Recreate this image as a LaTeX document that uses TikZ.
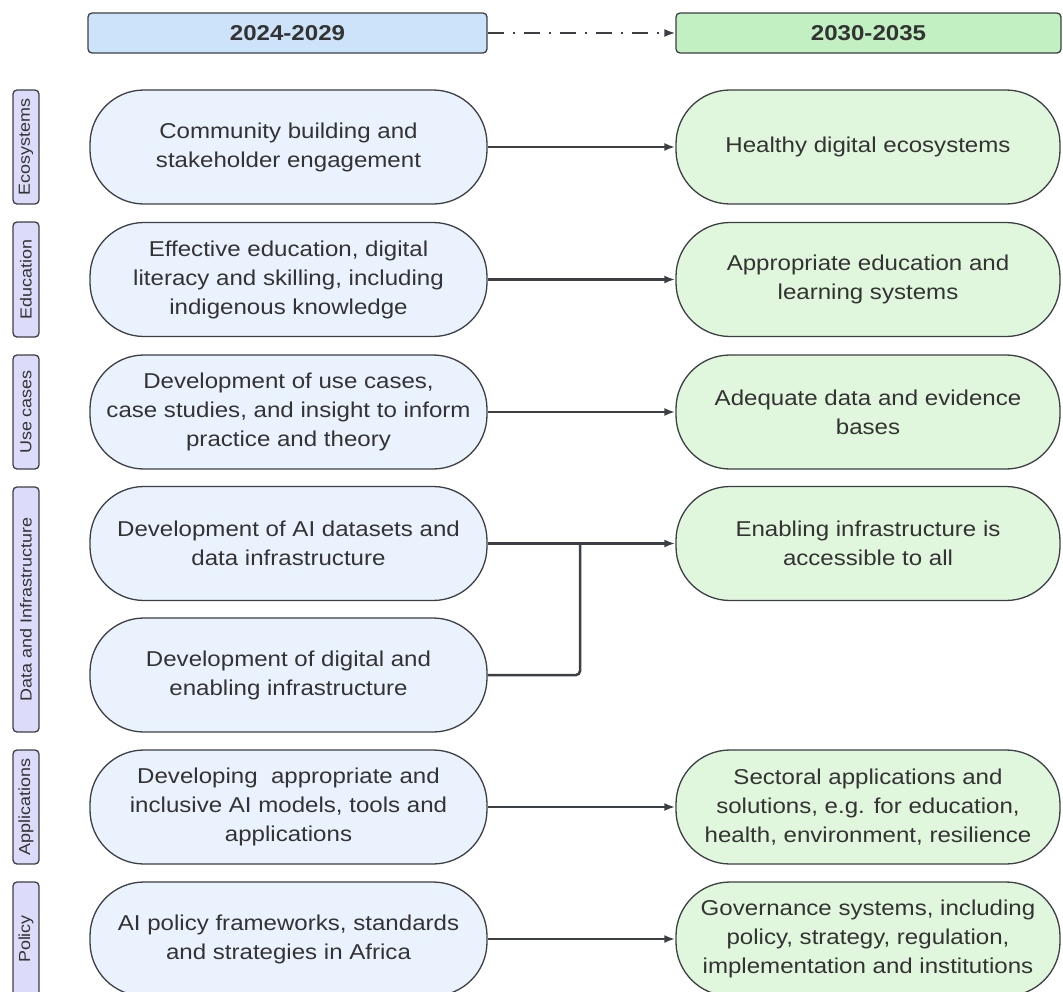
\documentclass[tikz,border=0pt]{standalone}
\usepackage{fontspec}
\setmainfont[FakeStretch=1.12]{Liberation Sans}
\usetikzlibrary{arrows.meta}
\definecolor{linec}{HTML}{3C3F44}
\definecolor{lfill}{HTML}{EAF2FE}
\definecolor{hlfill}{HTML}{CDE3F9}
\definecolor{rfill}{HTML}{E1F7DD}
\definecolor{hrfill}{HTML}{C2F0C2}
\definecolor{sfill}{HTML}{DCDCFA}
\definecolor{textc}{HTML}{333333}
\begin{document}
\begin{tikzpicture}[x=1pt,y=-1pt,
  txt/.style={font=\fontsize{21.5}{29}\selectfont, text=textc},
  lbox/.style={txt, draw=linec, line width=1.3pt, fill=lfill, rounded corners=54pt,
    minimum width=397pt, minimum height=114pt, inner sep=0pt, align=center},
  rbox/.style={lbox, fill=rfill, minimum width=384pt},
  hdr/.style={draw=linec, line width=1.3pt, rounded corners=4pt, minimum height=40pt,
    inner sep=0pt, font=\fontsize{21.5}{26}\bfseries\selectfont, text=textc},
  side/.style={draw=linec, line width=1.3pt, fill=sfill, rounded corners=4pt, rotate=90,
    minimum height=26pt, inner sep=0pt, font=\fontsize{16}{20}\selectfont, text=textc},
  conn/.style={draw=linec, line width=2.5pt, -{Latex[length=11pt,width=8pt]}},
  plain/.style={draw=linec, line width=2.5pt}
]
\useasboundingbox (0,0) rectangle (1063,991);

% headers
\node[hdr, fill=hlfill, minimum width=399pt] (h1) at (287.5,33) {2024-2029};
\node[hdr, fill=hrfill, minimum width=385pt] (h2) at (868.5,33) {2030-2035};
\draw[conn, line width=2pt, dash pattern=on 16pt off 9pt on 2pt off 9pt] (h1.east) -- (h2.west);

% side labels
\node[side, minimum width=114pt] (s1) at (26,147) {Ecosystems};
\node[side, minimum width=115pt] (s2) at (26,279.5) {Education};
\node[side, minimum width=114pt] (s3) at (26,412) {Use cases};
\node[side, minimum width=245pt] (s4) at (26,609.5) {Data and Infrastructure};
\node[side, minimum width=114pt] (s5) at (26,807) {Applications};
\node[side, minimum width=114pt] (s6) at (26,939) {Policy};

% left boxes
\node[lbox] (l1) at (288.5,147) {Community building and\\stakeholder engagement};
\node[lbox] (l2) at (288.5,279.5) {Effective education, digital\\literacy and skilling, including\\indigenous knowledge};
\node[lbox] (l3) at (288.5,412) {Development of use cases,\\case studies, and insight to inform\\practice and theory};
\node[lbox] (l4) at (288.5,543.5) {Development of AI datasets and\\data infrastructure};
\node[lbox] (l4b) at (288.5,675) {Development of digital and\\enabling infrastructure};
\node[lbox] (l5) at (288.5,807) {Developing\ \ appropriate and\\inclusive AI models, tools and\\applications};
\node[lbox] (l6) at (288.5,939) {AI policy frameworks, standards\\and strategies in Africa};

% right boxes
\node[rbox] (r1) at (868,147) {Healthy digital ecosystems};
\node[rbox] (r2) at (868,279.5) {Appropriate education and\\learning systems};
\node[rbox] (r3) at (868,412) {Adequate data and evidence\\bases};
\node[rbox] (r4) at (868,543.5) {Enabling infrastructure is\\accessible to all};
\node[rbox] (r5) at (868,807) {Sectoral applications and\\solutions, e.g. for education,\\health, environment, resilience};
\node[rbox] (r6) at (868,939) {Governance systems, including\\policy, strategy, regulation,\\implementation and institutions};

% connectors
\draw[conn] (l1.east) -- (r1.west);
\draw[conn] (l2.east) -- (r2.west);
\draw[conn] (l3.east) -- (r3.west);
\draw[conn] (l4.east) -- (r4.west);
\coordinate (j) at (580,543.5);
\draw[plain, rounded corners=4pt] (l4b.east) -| (j);
\draw[conn] (l5.east) -- (r5.west);
\draw[conn] (l6.east) -- (r6.west);
\end{tikzpicture}
\end{document}
